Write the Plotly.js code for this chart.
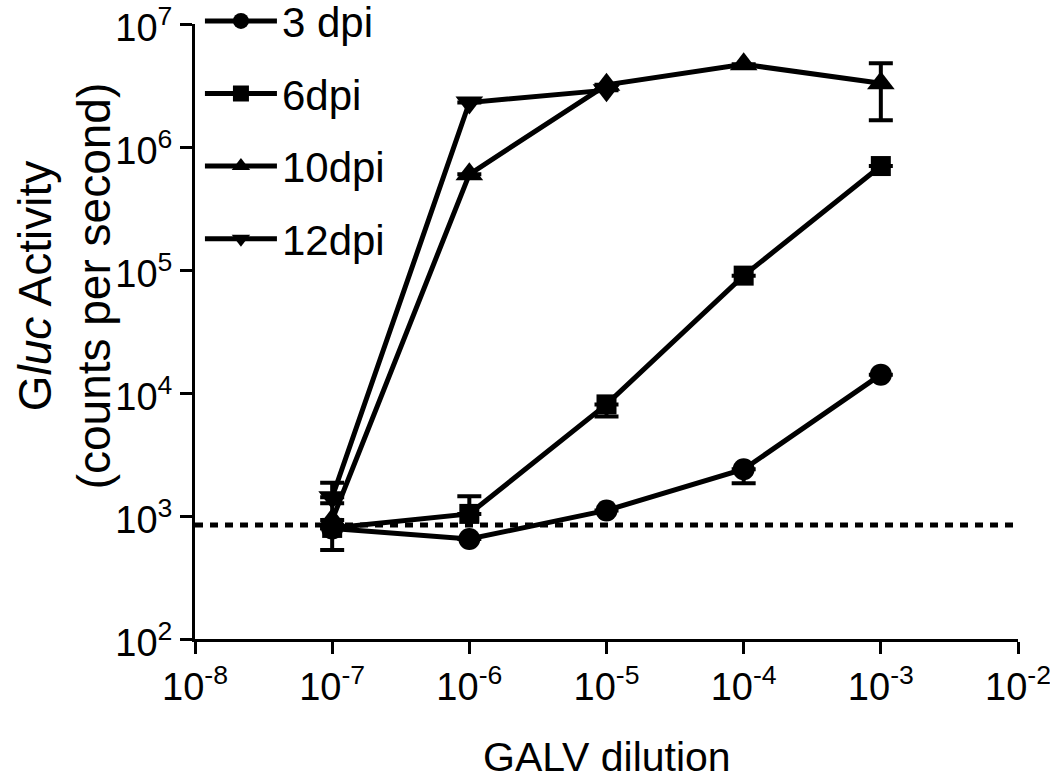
<!DOCTYPE html>
<html>
<head>
<meta charset="utf-8">
<script src="https://cdn.plot.ly/plotly-3.0.1.min.js"></script>
<style>html,body{margin:0;padding:0;background:#fff;}#chart{width:1050px;height:784px;}</style>
</head>
<body>
<div id="chart"></div>
<script>
// ---- data ----
const dilution = [1e-7, 1e-6, 1e-5, 1e-4, 1e-3];
const dilution12 = [1e-7, 1e-6, 1e-5];

const dpi3 = [790, 650, 1110, 2400, 14100];
const dpi3Plus = [0, 0, 0, 0, 0];
const dpi3Minus = [0, 0, 0, 550, 0];

const dpi6 = [800, 1040, 8080, 90000, 700000];
const dpi6Plus = [0, 410, 0, 0, 0];
const dpi6Minus = [270, 0, 1630, 0, 0];

const dpi10 = [930, 600000, 3200000, 4700000, 3300000];
const dpi10Plus = [340, 0, 0, 0, 1500000];
const dpi10Minus = [0, 0, 0, 0, 1650000];

const dpi12 = [1420, 2300000, 2900000];
const dpi12Plus = [440, 0, 0];
const dpi12Minus = [0, 0, 0];

const baseline = 845;

const seriesNames = ['3 dpi', '6dpi', '10dpi', '12dpi'];
const xTickVals = [1e-8, 1e-7, 1e-6, 1e-5, 1e-4, 1e-3, 1e-2];
const xTickText = ['10<sup>-8</sup>', '10<sup>-7</sup>', '10<sup>-6</sup>', '10<sup>-5</sup>', '10<sup>-4</sup>', '10<sup>-3</sup>', '10<sup>-2</sup>'];
const yTickVals = [1e2, 1e3, 1e4, 1e5, 1e6, 1e7];
const yTickText = ['10<sup>2</sup>', '10<sup>3</sup>', '10<sup>4</sup>', '10<sup>5</sup>', '10<sup>6</sup>', '10<sup>7</sup>'];
const yTitle = 'G<i>luc</i> Activity<br>(counts per second)';
const xTitle = 'GALV dilution';

// ---- chart ----
const FONT = '"Liberation Sans", Arial, sans-serif';

function mk(name, x, y, plus, minus, symbol, size, grp) {
  return {
    type: 'scatter', mode: 'lines+markers', name: name, x: x, y: y,
    legendgroup: grp,
    line: {color: '#000', width: 5},
    marker: {symbol: symbol, size: size, color: '#000'},
    error_y: {type: 'data', symmetric: false, array: plus, arrayminus: minus,
              color: '#000', thickness: 4, width: 12},
    cliponaxis: false
  };
}

const traces = [
  mk(seriesNames[0], dilution, dpi3, dpi3Plus, dpi3Minus, 'circle', 22, 'a'),
  mk(seriesNames[1], dilution, dpi6, dpi6Plus, dpi6Minus, 'square', 20, 'b'),
  mk(seriesNames[2], dilution, dpi10, dpi10Plus, dpi10Minus, 'triangle-up', 24, 'c'),
  mk(seriesNames[3], dilution12, dpi12, dpi12Plus, dpi12Minus, 'triangle-down', 24, 'd')
];

const axisCommon = {
  type: 'log', tickmode: 'array',
  showline: true, linecolor: '#000', linewidth: 3, ticks: 'outside', ticklen: 12, tickwidth: 3, tickcolor: '#000',
  showgrid: false, zeroline: false, tickfont: {family: FONT, size: 38, color: '#000'},
  automargin: false, ticklabeloverflow: 'allow'
};

const layout = {
  width: 1050, height: 784,
  margin: {l: 195, r: 32, t: 24, b: 145, autoexpand: false},
  paper_bgcolor: '#fff', plot_bgcolor: '#fff',
  font: {family: FONT, color: '#000', size: 40},
  showlegend: true,
  legend: {xref: 'paper', yref: 'paper', x: 0.006, y: 1.06, xanchor: 'left', yanchor: 'top',
           font: {family: FONT, size: 42, color: '#000'},
           bgcolor: 'rgba(0,0,0,0)', tracegroupgap: 15, itemwidth: 72},
  xaxis: Object.assign({}, axisCommon, {range: [-8, -2], tickvals: xTickVals, ticktext: xTickText}),
  yaxis: Object.assign({}, axisCommon, {range: [2, 7], tickvals: yTickVals, ticktext: yTickText, ticklabelshift: 4}),
  annotations: [
    {text: yTitle, xref: 'paper', yref: 'paper', x: -0.158, y: 0.575,
     xanchor: 'center', yanchor: 'middle', textangle: -90, showarrow: false,
     font: {family: FONT, size: 46, color: '#000'}},
    {text: xTitle, xref: 'paper', yref: 'paper', x: 0.5, y: -0.192, xanchor: 'center', yanchor: 'middle',
     showarrow: false, font: {family: FONT, size: 41, color: '#000'}}
  ],
  shapes: [{type: 'line', xref: 'paper', x0: 0, x1: 1, yref: 'y', y0: baseline, y1: baseline,
            line: {color: '#000', width: 5, dash: '8px,7px'}}]
};

Plotly.newPlot('chart', traces, layout, {displayModeBar: false, staticPlot: true});
</script>
</body>
</html>
